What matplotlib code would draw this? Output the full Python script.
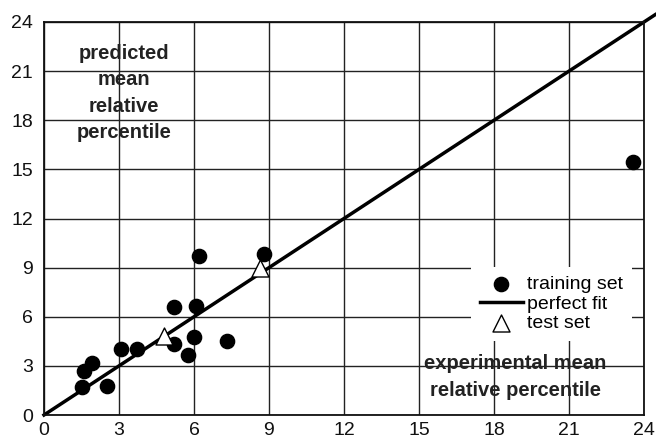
import numpy as np
import matplotlib
matplotlib.use("Agg")
import matplotlib.pyplot as plt

plt.rcParams['font.family'] = ['Liberation Sans', 'DejaVu Sans']

# training set (experimental, predicted)
train_x = [1.53, 1.60, 1.91, 2.53, 3.08, 3.71, 5.20, 5.20, 5.77, 6.01, 6.07, 6.21, 7.32, 8.81, 23.56]
train_y = [1.69, 2.69, 3.16, 1.79, 4.03, 4.03, 6.57, 4.32, 3.64, 4.78, 6.68, 9.73, 4.52, 9.83, 15.42]
# test set
test_x = [4.79, 8.65]
test_y = [4.85, 8.95]
# perfect fit line
fit_x = [0, 24.45]
fit_y = [0, 24.45]
ticks = np.arange(0, 25, 3)

fig = plt.figure(figsize=(6.56, 4.42), dpi=100)
ax = fig.add_axes([44/656, 27/442, 600/656, 393/442])

ax.set_xlim(0, 24)
ax.set_ylim(0, 24)
ax.set_xticks(ticks)
ax.set_yticks(ticks)
ax.grid(True, color='#222222', linewidth=1.0)
ax.set_axisbelow(True)
ax.tick_params(length=0, labelsize=14, colors='#111111')
ax.tick_params(axis='x', pad=5)
ax.tick_params(axis='y', pad=8)
for s in ax.spines.values():
    s.set_linewidth(1.3)
    s.set_color('#111111')

ax.scatter(train_x, train_y, s=105, color='black', zorder=3, label='training set')
ax.plot(fit_x, fit_y, color='black', linewidth=2.5, clip_on=False, zorder=2, label='perfect fit')
ax.scatter(test_x, test_y, s=150, marker='^', facecolor='white', edgecolor='black',
           linewidth=1.0, zorder=4, label='test set')

ax.text(3.2, 19.66, "predicted\nmean\nrelative\npercentile", ha='center', va='center',
        fontsize=14.5, fontweight='bold', color='#222222', linespacing=1.5, zorder=5)
ax.text(18.86, 2.32, "experimental mean\nrelative percentile", ha='center', va='center',
        fontsize=14.5, fontweight='bold', color='#222222', linespacing=1.5, zorder=5)

leg = ax.legend(loc='upper left', bbox_to_anchor=(0.7117, 0.3766), frameon=True,
                fontsize=14, labelspacing=0.1, handlelength=2.2, handletextpad=0.25,
                borderpad=0.45, borderaxespad=0, scatterpoints=1, framealpha=1,
                fancybox=False)
leg.get_frame().set_edgecolor('white')
leg.get_frame().set_linewidth(0)
leg.set_zorder(4.5)

fig.savefig("out.png", dpi=100)
